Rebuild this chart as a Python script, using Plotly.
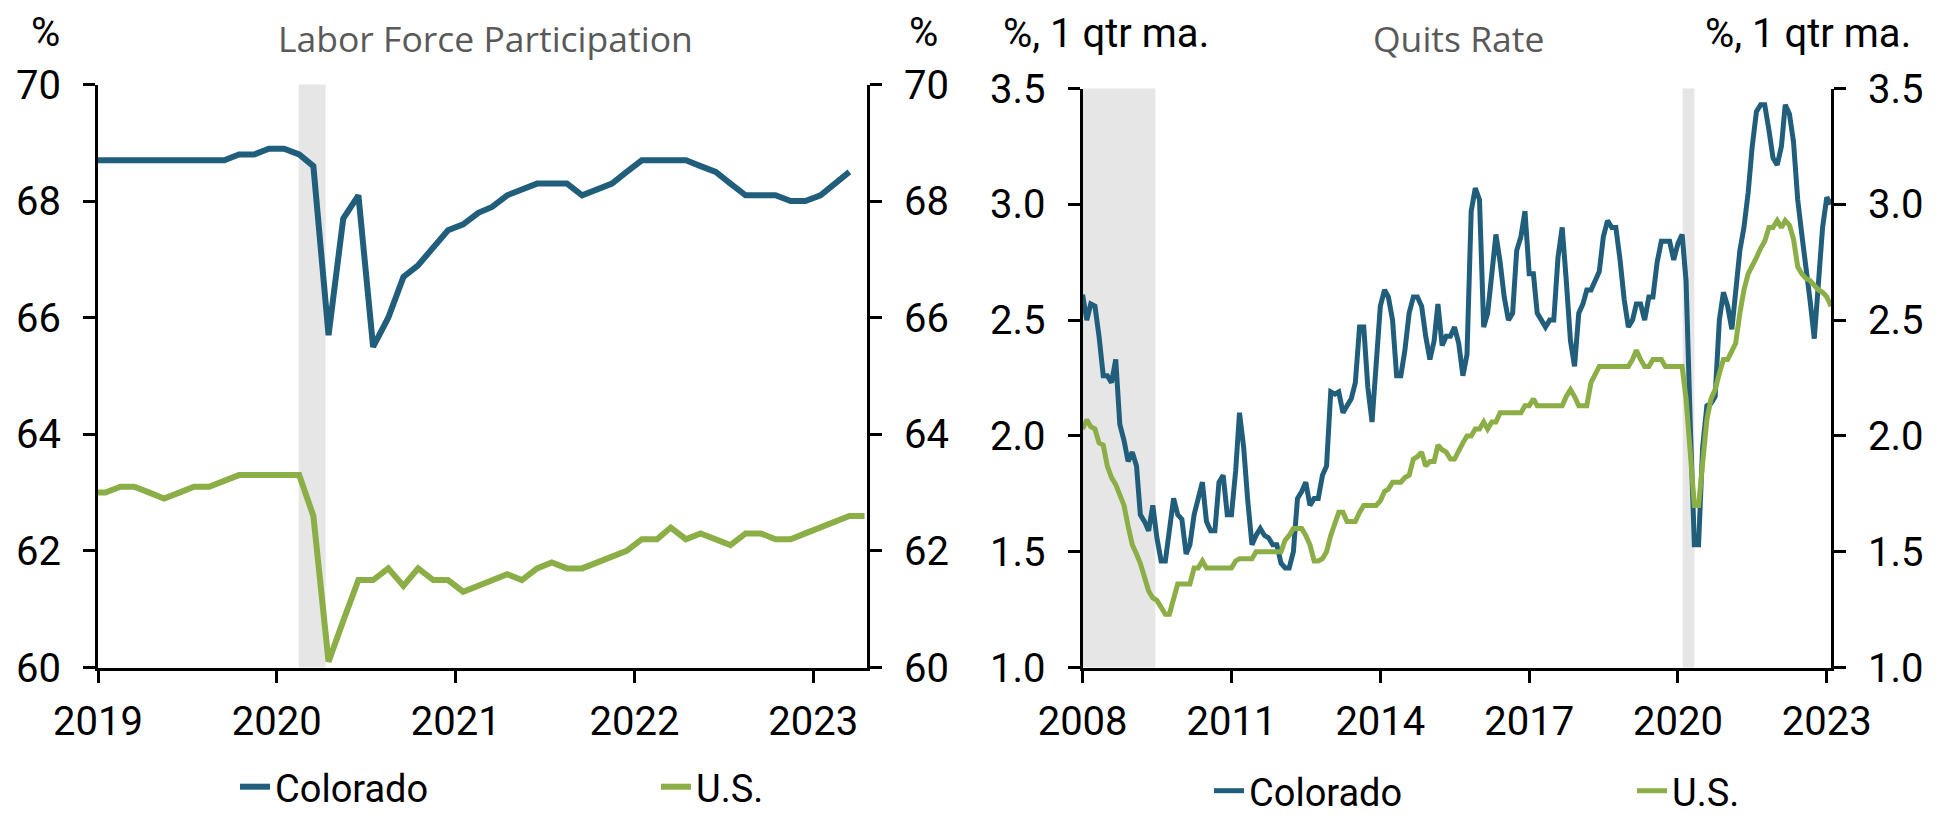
import pandas as pd
import plotly.graph_objects as go

# The page body adds an 8px margin, so the figure is sized to fill the rest of the window.
OFF = 8
W, H = 1949 - OFF, 818 - OFF

# ---------------- Data: Labor force participation (monthly, %) ----------------
# Series start in Dec 2018 (only the stub reaching the left axis is visible).
lfp_start = "2018-12-01"
lfp_colorado = [68.7,
                68.7, 68.7, 68.7, 68.7, 68.7, 68.7, 68.7, 68.7, 68.7, 68.8,
                68.8, 68.9, 68.9, 68.8, 68.6, 65.7, 67.7, 68.1, 65.5, 66.0,
                66.7, 66.9, 67.2, 67.5, 67.6, 67.8, 67.9, 68.1, 68.2, 68.3,
                68.3, 68.3, 68.1, 68.2, 68.3, 68.5, 68.7, 68.7, 68.7, 68.7,
                68.6, 68.5, 68.3, 68.1, 68.1, 68.1, 68.0, 68.0, 68.1, 68.3,
                68.5]
lfp_us = [63.0,
          63.0, 63.1, 63.1, 63.0, 62.9, 63.0, 63.1, 63.1, 63.2, 63.3,
          63.3, 63.3, 63.3, 63.3, 62.6, 60.1, 60.8, 61.5, 61.5, 61.7,
          61.4, 61.7, 61.5, 61.5, 61.3, 61.4, 61.5, 61.6, 61.5, 61.7,
          61.8, 61.7, 61.7, 61.8, 61.9, 62.0, 62.2, 62.2, 62.4, 62.2,
          62.3, 62.2, 62.1, 62.3, 62.3, 62.2, 62.2, 62.3, 62.4, 62.5,
          62.6, 62.6]

# ---------------- Data: Quits rate (%, 1 qtr moving average) ----------------
quits_start = "2008-01-01"
quits_colorado = [
    2.61, 2.50, 2.57, 2.56, 2.43, 2.26, 2.26, 2.23, 2.33, 2.05,
    1.98, 1.89, 1.93, 1.87, 1.66, 1.63, 1.59, 1.70, 1.56, 1.46,
    1.46, 1.58, 1.73, 1.66, 1.64, 1.49, 1.53, 1.66, 1.74, 1.80,
    1.63, 1.59, 1.59, 1.80, 1.83, 1.66, 1.66, 1.85, 2.10, 1.95,
    1.72, 1.53, 1.57, 1.60, 1.57, 1.56, 1.53, 1.53, 1.45, 1.43,
    1.43, 1.50, 1.73, 1.76, 1.80, 1.70, 1.73, 1.73, 1.83, 1.87,
    2.19, 2.18, 2.19, 2.10, 2.13, 2.16, 2.23, 2.47, 2.47, 2.21,
    2.06, 2.33, 2.56, 2.63, 2.60, 2.50, 2.26, 2.26, 2.37, 2.53,
    2.60, 2.60, 2.56, 2.43, 2.33, 2.41, 2.57, 2.39, 2.43, 2.43,
    2.47, 2.40, 2.26, 2.35, 2.97, 3.07, 3.02, 2.47, 2.53, 2.70,
    2.87, 2.75, 2.60, 2.50, 2.53, 2.80, 2.86, 2.97, 2.70, 2.70,
    2.53, 2.50, 2.47, 2.50, 2.50, 2.77, 2.90, 2.67, 2.41, 2.30,
    2.53, 2.57, 2.63, 2.63, 2.67, 2.71, 2.86, 2.93, 2.90, 2.90,
    2.76, 2.59, 2.47, 2.50, 2.57, 2.57, 2.50, 2.60, 2.60, 2.75,
    2.84, 2.84, 2.84, 2.76, 2.83, 2.87, 2.67, 2.05, 1.53, 1.53,
    1.95, 2.13, 2.14, 2.17, 2.50, 2.62, 2.56, 2.46, 2.60, 2.80,
    2.90, 3.05, 3.25, 3.40, 3.43, 3.43, 3.32, 3.20, 3.17, 3.25,
    3.43, 3.39, 3.27, 3.02, 2.87, 2.70, 2.58, 2.42, 2.70, 2.90,
    3.03, 3.00]
quits_us = [
    2.03, 2.07, 2.04, 2.03, 1.97, 1.96, 1.87, 1.82, 1.79, 1.75,
    1.70, 1.61, 1.53, 1.49, 1.45, 1.39, 1.33, 1.30, 1.29, 1.26,
    1.23, 1.23, 1.30, 1.36, 1.36, 1.36, 1.36, 1.43, 1.43, 1.46,
    1.43, 1.43, 1.43, 1.43, 1.43, 1.43, 1.43, 1.46, 1.47, 1.47,
    1.47, 1.47, 1.50, 1.50, 1.50, 1.50, 1.50, 1.50, 1.50, 1.55,
    1.57, 1.60, 1.60, 1.60, 1.57, 1.53, 1.46, 1.46, 1.47, 1.50,
    1.57, 1.62, 1.67, 1.67, 1.63, 1.63, 1.63, 1.67, 1.70, 1.70,
    1.70, 1.70, 1.72, 1.76, 1.77, 1.80, 1.80, 1.80, 1.82, 1.83,
    1.90, 1.91, 1.93, 1.87, 1.89, 1.89, 1.96, 1.94, 1.93, 1.90,
    1.90, 1.93, 1.97, 2.00, 2.00, 2.03, 2.03, 2.06, 2.03, 2.06,
    2.06, 2.10, 2.10, 2.10, 2.10, 2.10, 2.10, 2.13, 2.13, 2.16,
    2.13, 2.13, 2.13, 2.13, 2.13, 2.13, 2.13, 2.17, 2.20, 2.17,
    2.13, 2.13, 2.13, 2.23, 2.27, 2.30, 2.30, 2.30, 2.30, 2.30,
    2.30, 2.30, 2.30, 2.33, 2.37, 2.33, 2.30, 2.30, 2.33, 2.33,
    2.33, 2.30, 2.30, 2.30, 2.30, 2.30, 2.16, 1.93, 1.70, 1.70,
    1.90, 2.07, 2.16, 2.20, 2.27, 2.33, 2.33, 2.37, 2.40, 2.53,
    2.63, 2.70, 2.73, 2.77, 2.81, 2.84, 2.90, 2.90, 2.93, 2.90,
    2.93, 2.91, 2.85, 2.73, 2.70, 2.68, 2.67, 2.65, 2.63, 2.62,
    2.60, 2.56]

# Recession shading periods
lfp_recessions = [("2020-02-15", "2020-04-10")]
quits_recessions = [("2007-12-01", "2009-06-20"), ("2020-02-05", "2020-05-01")]

lfp_years = ["2019", "2020", "2021", "2022", "2023"]
quits_years = ["2008", "2011", "2014", "2017", "2020", "2023"]

# monthly LFP observations are plotted at mid-month
lfp_dates = (pd.date_range(lfp_start, periods=max(len(lfp_colorado), len(lfp_us)), freq="MS")
             + pd.Timedelta(days=15))
quits_dates = pd.date_range(quits_start, periods=len(quits_colorado), freq="MS")

CO_COLOR = "#215E7C"
US_COLOR = "#8BAE46"
SHADE = "#E6E6E6"
TICK_FONT = dict(family="Roboto, Liberation Sans, Arial", size=40, color="black")
LEG_FONT = dict(family="Roboto, Liberation Sans, Arial", size=38, color="black")
TITLE_FONT = dict(family="Open Sans, Noto Sans, sans-serif", size=35.5, color="#595959")

fig = go.Figure()

fig.add_trace(go.Scatter(x=lfp_dates[:len(lfp_colorado)], y=lfp_colorado, name="Colorado",
                         mode="lines", line=dict(color=CO_COLOR, width=6),
                         xaxis="x", yaxis="y", legend="legend"))
fig.add_trace(go.Scatter(x=lfp_dates[:len(lfp_us)], y=lfp_us, name="U.S.",
                         mode="lines", line=dict(color=US_COLOR, width=6),
                         xaxis="x", yaxis="y", legend="legend"))
fig.add_trace(go.Scatter(x=quits_dates, y=quits_colorado, name="Colorado",
                         mode="lines", line=dict(color=CO_COLOR, width=5),
                         xaxis="x2", yaxis="y3", legend="legend2"))
fig.add_trace(go.Scatter(x=quits_dates[:len(quits_us)], y=quits_us, name="U.S.",
                         mode="lines", line=dict(color=US_COLOR, width=5),
                         xaxis="x2", yaxis="y3", legend="legend2"))
# empty helper traces so that the right-hand value axes are rendered
fig.add_trace(go.Scatter(x=[], y=[], xaxis="x", yaxis="y2", showlegend=False,
                         hoverinfo="skip"))
fig.add_trace(go.Scatter(x=[], y=[], xaxis="x2", yaxis="y4", showlegend=False,
                         hoverinfo="skip"))

def px_x(p):
    return (p - OFF) / W

def px_y(p):
    return 1 - (p - OFF) / H

axis_common = dict(showline=True, linewidth=3, linecolor="black", ticks="outside",
                   ticklen=12, tickwidth=3, tickcolor="black", showgrid=False,
                   zeroline=False, tickfont=TICK_FONT, fixedrange=True,
                   automargin=False)
YSTAND = 14
XSTAND = 4

fig.update_layout(
    width=W, height=H,
    margin=dict(l=0, r=0, t=0, b=0, autoexpand=False),
    paper_bgcolor="white", plot_bgcolor="white",
    xaxis=dict(domain=[px_x(98), px_x(867)], anchor="y", type="date",
               range=["2019-01-01", "2023-04-21"],
               tickvals=[f"{y}-01-01" for y in lfp_years], ticktext=lfp_years,
               ticklabelstandoff=XSTAND, **axis_common),
    yaxis=dict(domain=[px_y(667.5), px_y(84.5)], anchor="x", range=[60, 70],
               tickvals=[60, 62, 64, 66, 68, 70], ticklabelstandoff=YSTAND, **axis_common),
    yaxis2=dict(overlaying="y", side="right", anchor="x", range=[60, 70],
                tickvals=[60, 62, 64, 66, 68, 70], ticklabelstandoff=YSTAND, **axis_common),
    xaxis2=dict(domain=[px_x(1082.6), px_x(1831)], anchor="y3", type="date",
                range=["2008-01-01", "2023-02-01"],
                tickvals=[f"{y}-01-01" for y in quits_years], ticktext=quits_years,
                ticklabelstandoff=XSTAND, **axis_common),
    yaxis3=dict(domain=[px_y(667.5), px_y(88.5)], anchor="x2", range=[1.0, 3.5],
                tickvals=[1.0, 1.5, 2.0, 2.5, 3.0, 3.5], tickformat=".1f",
                ticklabelstandoff=YSTAND, **axis_common),
    yaxis4=dict(overlaying="y3", side="right", anchor="x2", range=[1.0, 3.5],
                tickvals=[1.0, 1.5, 2.0, 2.5, 3.0, 3.5], tickformat=".1f",
                ticklabelstandoff=YSTAND, **axis_common),
    legend=dict(orientation="h", x=px_x(235), xanchor="left", y=px_y(787), yanchor="middle",
                font=LEG_FONT, bgcolor="rgba(0,0,0,0)", entrywidth=376,
                entrywidthmode="pixels", itemclick=False, itemdoubleclick=False),
    legend2=dict(orientation="h", x=px_x(1209), xanchor="left", y=px_y(791), yanchor="middle",
                 font=LEG_FONT, bgcolor="rgba(0,0,0,0)", entrywidth=378,
                 entrywidthmode="pixels", itemclick=False, itemdoubleclick=False),
    showlegend=True,
)

shapes = []
for x0, x1 in lfp_recessions:
    shapes.append(dict(type="rect", xref="x", yref="y domain", x0=x0, x1=x1, y0=0, y1=1,
                       fillcolor=SHADE, line=dict(width=0), layer="below"))
for x0, x1 in quits_recessions:
    shapes.append(dict(type="rect", xref="x2", yref="y3 domain", x0=x0, x1=x1, y0=0, y1=1,
                       fillcolor=SHADE, line=dict(width=0), layer="below"))
fig.update_layout(shapes=shapes)

annotations = [
    dict(text="%", x=px_x(45), y=px_y(32), font=TICK_FONT),
    dict(text="%", x=px_x(923.6), y=px_y(32), font=TICK_FONT),
    dict(text="Labor Force Participation", x=px_x(485), y=px_y(38), font=TITLE_FONT),
    dict(text="%, 1 qtr ma.", x=px_x(1106), y=px_y(33), font=TICK_FONT),
    dict(text="%, 1 qtr ma.", x=px_x(1808), y=px_y(33), font=TICK_FONT),
    dict(text="Quits Rate", x=px_x(1458), y=px_y(38), font=TITLE_FONT),
]
for a in annotations:
    a.update(xref="paper", yref="paper", xanchor="center", yanchor="middle",
             showarrow=False)
fig.update_layout(annotations=annotations)

fig.write_html("out.html")
